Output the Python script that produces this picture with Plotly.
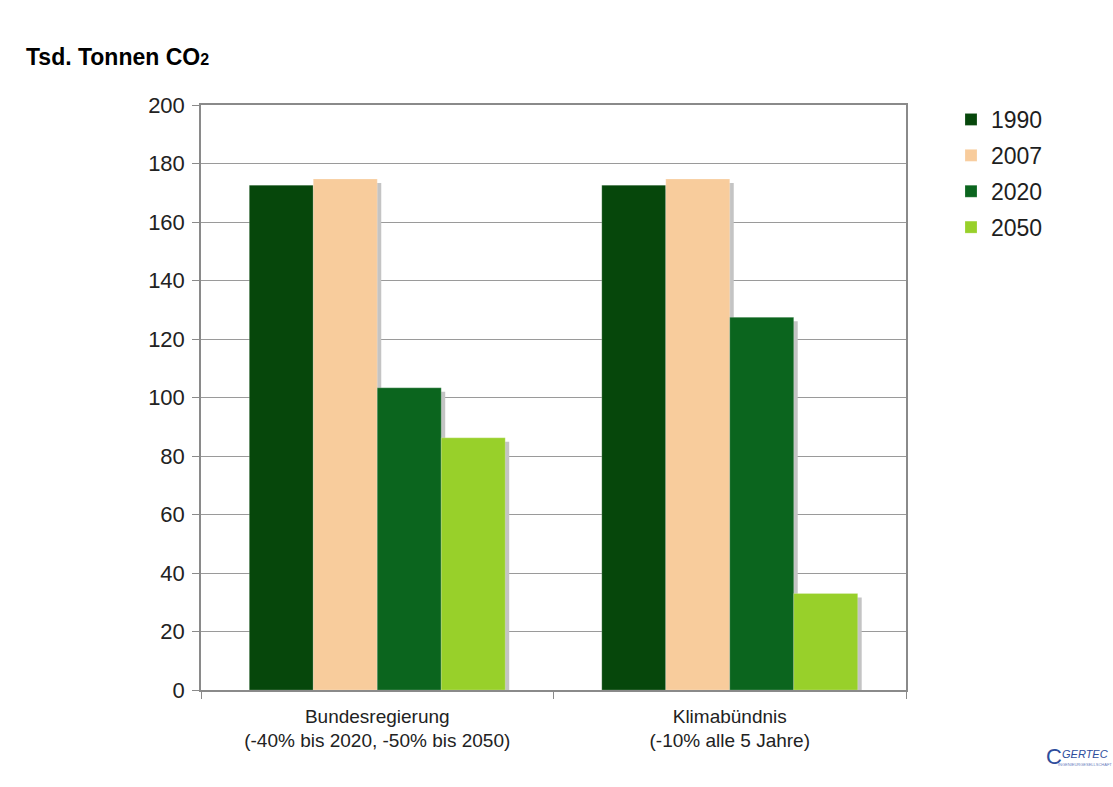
import plotly.graph_objects as go

# Kategorien (zweizeilige Achsenbeschriftung)
categories = [
    "Bundesregierung<br>(-40% bis 2020, -50% bis 2050)",
    "Klimabündnis<br>(-10% alle 5 Jahre)",
]
years = ["1990", "2007", "2020", "2050"]
values_1990 = [172.6, 172.6]
values_2007 = [174.7, 174.7]
values_2020 = [103.3, 127.4]
values_2050 = [86.2, 33.0]
y_ticks = [0, 20, 40, 60, 80, 100, 120, 140, 160, 180, 200]

series = [values_1990, values_2007, values_2020, values_2050]
colors = ["#06470b", "#f8cc9c", "#0b651e", "#98d02a"]
shadow_color = "#c4c4c4"

W, H = 1113, 787
ML, MR, MT, MB = 201, 207, 105, 97
plot_w = W - ML - MR
plot_h = H - MT - MB
y_range = [0, 200]
x_range = [-0.5, 1.5]

# Schatten: gleiche Balken, um einige Pixel nach rechts unten versetzt
shift_px = 4
dx = shift_px * (x_range[1] - x_range[0]) / plot_w
dy = shift_px * (y_range[1] - y_range[0]) / plot_h

fig = go.Figure()

for vals in series:
    fig.add_trace(go.Bar(
        x=categories, y=vals, xaxis="x", yaxis="y",
        marker=dict(color=shadow_color, line=dict(width=0)),
        showlegend=False, hoverinfo="skip",
    ))

for name, vals, col in zip(years, series, colors):
    fig.add_trace(go.Bar(
        x=categories, y=vals, name=name, xaxis="x2", yaxis="y2",
        legendgroup=name,
        marker=dict(color=col, line=dict(width=0.6, color="rgba(255,255,255,0.35)")),
    ))

font_family = "Liberation Sans, Arial, sans-serif"


def px_x(px):
    return (px - ML) / plot_w


def px_y(py):
    return (MT + plot_h - py) / plot_h


fig.update_layout(
    width=W, height=H,
    margin=dict(l=ML, r=MR, t=MT, b=MB),
    paper_bgcolor="white", plot_bgcolor="white",
    barmode="group", bargap=0.274, bargroupgap=0,
    font=dict(family=font_family, color="#1e1e1e"),
    title=dict(
        text="<b>Tsd. Tonnen CO<span style='font-size:16px'>2</span></b>",
        x=26 / W, xref="container", xanchor="left",
        y=1 - 49 / H, yref="container", yanchor="top",
        font=dict(size=23, color="#000000", family=font_family),
    ),
    xaxis=dict(
        range=[x_range[0] - dx, x_range[1] - dx], visible=False,
        showgrid=False, fixedrange=True,
    ),
    yaxis=dict(
        range=[y_range[0] + dy, y_range[1] + dy], visible=False,
        showgrid=False, fixedrange=True,
    ),
    xaxis2=dict(
        overlaying="x", range=x_range, type="category",
        showline=True, linecolor="#8a8a8a", linewidth=1.5, mirror=True,
        ticks="outside", tickson="boundaries", ticklen=7, tickcolor="#8a8a8a",
        ticklabelstandoff=8,
        tickfont=dict(size=19, color="#222222"),
        showgrid=False,
    ),
    yaxis2=dict(
        overlaying="y", range=y_range,
        tickvals=y_ticks,
        showline=True, linecolor="#8a8a8a", linewidth=1.5, mirror=True,
        ticks="outside", ticklen=7, tickcolor="#8a8a8a",
        ticklabelstandoff=3,
        showgrid=True, gridcolor="#9a9a9a", gridwidth=1,
        zeroline=False,
        tickfont=dict(size=22, color="#222222"),
    ),
    legend=dict(
        x=px_x(951), xanchor="left", y=1.012, yanchor="top",
        font=dict(size=23, color="#1e1e1e"),
        tracegroupgap=3, itemwidth=30,
        bgcolor="rgba(0,0,0,0)",
    ),
)

# Firmenlogo unten rechts
logo_blue = "#2e4d9c"
fig.add_annotation(
    text="C", xref="paper", yref="paper",
    x=px_x(1044), y=px_y(756),
    xanchor="left", yanchor="middle", showarrow=False,
    font=dict(size=22, color=logo_blue, family=font_family),
)
fig.add_annotation(
    text="<i>GERTEC</i>", xref="paper", yref="paper",
    x=px_x(1060), y=px_y(754),
    xanchor="left", yanchor="middle", showarrow=False,
    font=dict(size=11, color=logo_blue, family=font_family),
)
fig.add_annotation(
    text="INGENIEURGESELLSCHAFT", xref="paper", yref="paper",
    x=px_x(1056), y=px_y(764),
    xanchor="left", yanchor="middle", showarrow=False,
    font=dict(size=4, color="#6a80c0", family=font_family),
)

fig.write_html("out.html")
